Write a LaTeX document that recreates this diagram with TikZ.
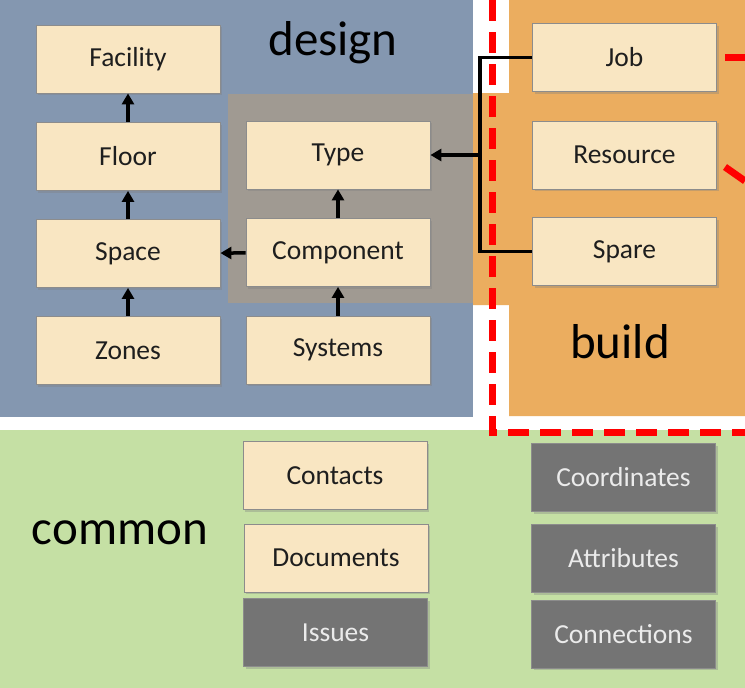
\documentclass[tikz,border=0pt]{standalone}
\usepackage{fontspec}
\setmainfont{Carlito}
\usetikzlibrary{arrows.meta,shadows}
\definecolor{designbg}{RGB}{132,151,176}
\definecolor{buildbg}{RGB}{235,173,95}
\definecolor{commonbg}{RGB}{197,224,164}
\definecolor{overlaygray}{RGB}{160,154,146}
\definecolor{cream}{RGB}{249,230,194}
\definecolor{darkbox}{RGB}{116,116,116}
\definecolor{txt}{RGB}{30,30,30}
\begin{document}
\begin{tikzpicture}[x=1pt,y=-1pt,
  entity/.style={draw=black!45,line width=0.8pt,fill=cream,minimum width=184pt,minimum height=68pt,inner sep=0pt,
    text=txt,font=\fontsize{27.5}{30}\selectfont,
    drop shadow={shadow xshift=2pt,shadow yshift=-2pt,opacity=0.35}},
  darkentity/.style={entity,fill=darkbox,text=white!92!black},
  link/.style={line width=3.5pt,black,-{Triangle[length=11pt,width=12pt]}},
  bus/.style={line width=3.5pt,black},
  region/.style={text=black,font=\fontsize{49}{52}\selectfont},
  redline/.style={red,line width=7pt}]
\useasboundingbox (0,0) rectangle (745,688);
\fill[white] (0,0) rectangle (745,688);
% regions
\fill[designbg] (0,0) rectangle (473,417);
\fill[buildbg] (509,0) -- (745,0) -- (745,416) -- (509,416) -- (509,305) -- (473,305) -- (473,93) -- (509,93) -- cycle;
\fill[commonbg] (0,430) rectangle (745,688);
\fill[overlaygray] (228,94) rectangle (473,303);
% region labels
\node[region] (designlbl) at (333,43) {design};
\node[region] (buildlbl) at (620,342) {build};
\node[region] (commonlbl) at (120,533) {common};
% design boxes
\node[entity] (facility) at (128,59) {Facility};
\node[entity] (floor) at (128,156.5) {Floor};
\node[entity] (space) at (128,253.5) {Space};
\node[entity] (zones) at (128,350.5) {Zones};
\node[entity] (type) at (338,155) {Type};
\node[entity] (component) at (338,252.5) {Component};
\node[entity] (systems) at (338,350) {Systems};
% build boxes
\node[entity] (job) at (624.5,57.5) {Job};
\node[entity] (resource) at (624.5,155) {Resource};
\node[entity] (spare) at (624.5,251.5) {Spare};
% common boxes
\node[entity] (contacts) at (335,475.5) {Contacts};
\node[entity] (documents) at (336,558) {Documents};
\node[darkentity] (issues) at (335.5,632.5) {Issues};
\node[darkentity] (coordinates) at (623.5,477.5) {Coordinates};
\node[darkentity] (attributes) at (623.5,558.5) {Attributes};
\node[darkentity] (connections) at (623.5,634) {Connections};
% arrows
\draw[link] (floor) -- (facility);
\draw[link] (space) -- (floor);
\draw[link] (zones) -- (space);
\draw[link] (component) -- (type);
\draw[link] (systems) -- (component);
\draw[link] (component) -- (space);
\coordinate (busTop) at (480,57.5);
\coordinate (busMid) at (480,155);
\coordinate (busBot) at (480,251.5);
\draw[bus] (job.west) -- (busTop) -- (busBot) -- (spare.west);
\draw[link] (busMid) -- (type.east);
% red dashed boundary
\coordinate (rTop) at (492,0);
\coordinate (rCorner) at (492,432);
\coordinate (rEnd) at (745,432);
\draw[redline,dash pattern=on 21pt off 11pt] (rTop) -- (rCorner) -- (rEnd);
\coordinate (r1a) at (725,57);
\coordinate (r1b) at (745,57);
\coordinate (r2a) at (725,167);
\coordinate (r2b) at (745,181);
\draw[redline] (r1a) -- (r1b);
\draw[redline] (r2a) -- (r2b);
\end{tikzpicture}
\end{document}
